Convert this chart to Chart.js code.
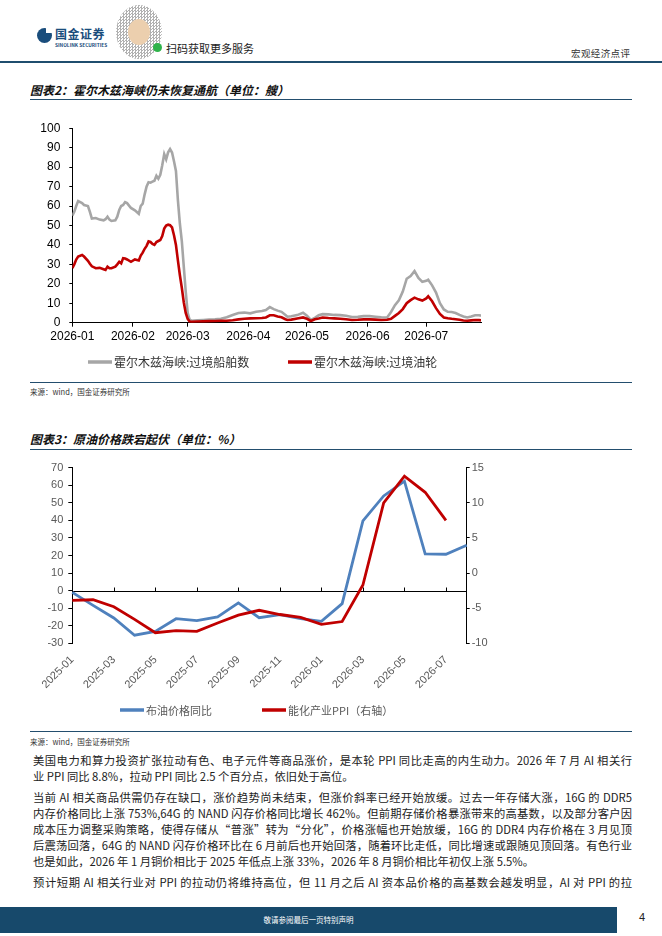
<!DOCTYPE html>
<html lang="zh-CN">
<head>
<meta charset="utf-8">
<script src="https://cdn.jsdelivr.net/npm/chart.js@4.4.1/dist/chart.umd.min.js"></script>
<style>
  html, body { margin: 0; padding: 0; background: #fff; }
  body { width: 662px; height: 936px; position: relative; overflow: hidden;
         font-family: "Noto Sans CJK SC", "Noto Sans", sans-serif; color: #222; }
  .abs { position: absolute; }
  .rule { position: absolute; left: 30px; width: 602px; height: 1.3px; background: #234e6e; }
  .title { position: absolute; left: 30px; font-size: 12px; font-weight: bold; font-style: italic; color: #111; }
  .src { position: absolute; left: 30px; font-size: 7.5px; color: #333; }
  .para { position: absolute; left: 33px; width: 599px; font-size: 11.3px; line-height: 16px; color: #222; }
  .para div { text-align: justify; text-align-last: justify; }
  .para div.last { text-align-last: left; }
  .qr { left: 116px; top: 5px; width: 46px; height: 54px; border-radius: 50%;
        background: repeating-conic-gradient(#555 0 25%, #fff 0 50%) 0 0 / 3px 3px; opacity: 0.45; }
  .qr-c { left: 128px; top: 19px; width: 22px; height: 26px; border-radius: 50%; background: #eccfae; }
  .qr-g { left: 153px; top: 43px; width: 9px; height: 9px; border-radius: 50%; background: #2fb34a; }
</style>
</head>
<body>
<!-- header -->
<div class="abs" style="left:37px;top:28px;width:15px;height:15px;border-radius:50%;background:#1a4d7c;"></div>
<div class="abs" style="left:46px;top:27px;width:6px;height:6px;background:#fff;"></div>
<div class="abs" style="left:55px;top:25px;font-size:12px;font-weight:bold;color:#1a4d7c;letter-spacing:0.5px;">国金证券</div>
<div class="abs" style="left:55px;top:41px;font-size:4.8px;font-weight:bold;color:#1a4d7c;">SINOLINK SECURITIES</div>
<div class="abs qr"></div>
<div class="abs qr-c"></div>
<div class="abs qr-g"></div>
<div class="abs" style="left:166px;top:40px;font-size:11px;color:#222;">扫码获取更多服务</div>
<div class="abs" style="left:571px;top:46px;font-size:9.5px;color:#333;letter-spacing:0.4px;">宏观经济点评</div>
<div class="abs" style="left:0;top:61px;width:662px;height:1.5px;background:#1f4e6e;"></div>

<!-- chart 2 block -->
<div class="title" style="top:81px;">图表2：霍尔木兹海峡仍未恢复通航（单位：艘）</div>
<div class="rule" style="top:99px;"></div>
<div class="abs" style="left:30px;top:112px;width:460px;height:268px;"><canvas id="shipChart"></canvas></div>
<div class="rule" style="top:382px;"></div>
<div class="src" style="top:386px;">来源：wind，国金证券研究所</div>

<!-- chart 3 block -->
<div class="title" style="top:430px;">图表3：原油价格跌宕起伏（单位：%）</div>
<div class="rule" style="top:449px;"></div>
<div class="abs" style="left:20px;top:452px;width:480px;height:276px;"><canvas id="oilChart"></canvas></div>
<div class="rule" style="top:731px;"></div>
<div class="src" style="top:736px;">来源：wind，国金证券研究所</div>

<!-- text -->
<div class="para" style="top:752px;">
  <div>美国电力和算力投资扩张拉动有色、电子元件等商品涨价，是本轮 PPI 同比走高的内生动力。2026 年 7 月 AI 相关行</div>
  <div class="last">业 PPI 同比 8.8%，拉动 PPI 同比 2.5 个百分点，依旧处于高位。</div>
</div>
<div class="para" style="top:789px;">
  <div>当前 AI 相关商品供需仍存在缺口，涨价趋势尚未结束，但涨价斜率已经开始放缓。过去一年存储大涨，16G 的 DDR5</div>
  <div>内存价格同比上涨 753%,64G 的 NAND 闪存价格同比增长 462%。但前期存储价格暴涨带来的高基数，以及部分客户因</div>
  <div>成本压力调整采购策略，使得存储从“普涨”转为“分化”，价格涨幅也开始放缓，16G 的 DDR4 内存价格在 3 月见顶</div>
  <div>后震荡回落，64G 的 NAND 闪存价格环比在 6 月前后也开始回落，随着环比走低，同比增速或跟随见顶回落。有色行业</div>
  <div class="last">也是如此，2026 年 1 月铜价相比于 2025 年低点上涨 33%，2026 年 8 月铜价相比年初仅上涨 5.5%。</div>
</div>
<div class="para" style="top:874px;">
  <div>预计短期 AI 相关行业对 PPI 的拉动仍将维持高位，但 11 月之后 AI 资本品价格的高基数会越发明显，AI 对 PPI 的拉</div>
</div>

<!-- footer -->
<div class="abs" style="left:0;top:907px;width:617px;height:26px;background:#17496b;"></div>
<div class="abs" style="left:0;top:914px;width:617px;text-align:center;font-size:7.5px;color:#fff;">敬请参阅最后一页特别声明</div>
<div class="abs" style="left:639px;top:911px;font-size:11px;color:#222;font-family:'Liberation Sans',Arial,sans-serif;">4</div>

<script>
// ---- chart 2 data: daily transits through Hormuz, x = day index from 2026-01-01 ----
const days = [0, 1, 2, 3, 5, 6, 8, 9, 10, 12, 14, 16, 17, 18, 19, 20, 22, 23, 24, 25, 26, 27, 28, 30, 32, 34, 35, 36, 37, 38,
  39, 40, 41, 42, 43, 44, 45, 46, 47, 48, 49, 50, 51, 52, 53, 54, 55, 56, 57, 58, 59, 60, 61, 64, 67, 70, 73, 76, 79, 82,
  85, 88, 91, 94, 97, 99, 101, 103, 105, 107, 109, 110, 112, 115, 118, 120, 122, 124, 126, 128, 131, 134, 137, 140, 143, 146, 149, 152, 155, 158,
  161, 163, 165, 167, 169, 171, 173, 175, 177, 179, 181, 182, 184, 186, 188, 190, 192, 194, 196, 198, 200, 202, 204, 206, 208, 209];
const allShips = [55, 57, 60, 62.5, 61.5, 60.5, 60, 57, 53.5, 53.8, 53, 52.6, 53.2, 54.5, 53, 52.3, 52.6, 54.5, 58, 60, 60.5, 62, 61.5, 59, 57.8, 56, 60, 61.2, 66, 70,
  72.2, 72, 72.5, 73, 75.5, 74, 76, 81, 86.7, 84, 87.6, 89.3, 87.5, 83, 78, 63, 51, 42, 29, 16, 5, 1.5, 1, 1.2, 1.4, 1.6, 1.7, 2, 2.8, 4,
  5, 5.2, 4.8, 5.6, 6, 6.5, 8, 7, 6.2, 5.6, 4, 3.1, 3.3, 3.9, 5.1, 3.6, 1.4, 2.5, 3.8, 4.4, 4.3, 4, 3.9, 3.6, 2.9, 3, 3.4, 3.4, 3.1, 2.8,
  2.7, 5.5, 9, 11.5, 16, 22.6, 24, 26.5, 23, 21, 21.5, 22.1, 19.2, 15.5, 10, 6.8, 5.6, 5.5, 5, 4, 3.2, 2.7, 3.2, 3.8, 3.8, 3.6];
const tankers = [28, 30, 32.5, 34, 34.8, 34, 31.8, 30.3, 29, 28, 28.2, 27.5, 27.1, 28.8, 28, 28, 28.8, 30, 31.3, 30.5, 33.2, 33, 32.5, 31.3, 32.5, 32, 34.5, 36, 38, 39.5,
  41.8, 41.5, 40.5, 40, 41.5, 42, 42.5, 44.5, 48.4, 50, 50.4, 50.1, 49, 45, 40, 32, 24.5, 18, 10.5, 5, 2, 0.6, 0.5, 0.6, 0.7, 0.8, 0.9, 1, 1, 1.3,
  1.7, 2, 2.2, 2.3, 2.4, 2.7, 3.8, 3.8, 3.2, 2.8, 1.8, 1.4, 1.6, 2.2, 2.7, 2, 0.9, 1.8, 2.2, 2.7, 2.4, 2.2, 2, 1.8, 1.4, 1.5, 1.7, 1.7, 1.6, 1.4,
  1.5, 2, 3.5, 5, 7, 10, 11.6, 12.9, 12, 11.4, 12.5, 13.6, 11, 7.5, 4.5, 2.7, 2.3, 2, 1.8, 1.5, 1.1, 1, 1.2, 1.4, 1.3, 1.2];
const monthDays = [0, 31, 59, 90, 120, 151, 181];
const monthLabels = ['2026-01', '2026-02', '2026-03', '2026-04', '2026-05', '2026-06', '2026-07'];
const shipTicks = [0, 10, 20, 30, 40, 50, 60, 70, 80, 90, 100];

// ---- chart 3 data: monthly, Brent yoy (left) and energy-chem PPI (right) ----
const months = ['2025-01', '2025-02', '2025-03', '2025-04', '2025-05', '2025-06', '2025-07', '2025-08', '2025-09', '2025-10',
  '2025-11', '2025-12', '2026-01', '2026-02', '2026-03', '2026-04', '2026-05', '2026-06', '2026-07', '2026-08'];
const brentYoy = [-1, -8.4, -15.6, -25.4, -23.2, -16, -17.1, -15, -7, -15.4, -13.7, -16, -17.5, -7.4, 39.7, 53.9, 62.3, 20.9, 20.7, 25.8];
const energyPpi = [-3.9, -3.8, -4.8, -6.6, -8.5, -8.2, -8.3, -7.1, -6, -5.3, -5.9, -6.3, -7.3, -6.9, -1.7, 10, 13.8, 11.5, 7.5, null];

Chart.defaults.font.family = "'Liberation Sans', Arial, sans-serif";
Chart.defaults.animation = false;

// line-sample legend drawn at fixed spots
const lineLegend = {
  id: 'lineLegend',
  afterDraw(chart, args, opts) {
    const ctx = chart.ctx;
    ctx.save();
    ctx.font = opts.font;
    ctx.textBaseline = 'middle';
    chart.data.datasets.forEach((ds, i) => {
      const x = opts.x[i];
      ctx.strokeStyle = ds.borderColor;
      ctx.lineWidth = opts.thickness;
      ctx.beginPath();
      ctx.moveTo(x, opts.y);
      ctx.lineTo(x + opts.boxWidth, opts.y);
      ctx.stroke();
      ctx.fillStyle = opts.color;
      ctx.fillText(ds.label, x + opts.boxWidth + opts.gap, opts.y + 0.5);
    });
    ctx.restore();
  }
};

// horizontal axis line at 0 with upward ticks on every 2nd month
const zeroAxis = {
  id: 'zeroAxis',
  beforeDatasetsDraw(chart) {
    const { ctx, chartArea, scales } = chart;
    const y = Math.round(scales.y.getPixelForValue(0)) + 0.5;
    ctx.save();
    ctx.strokeStyle = '#000';
    ctx.lineWidth = 1;
    ctx.beginPath();
    ctx.moveTo(chartArea.left, y);
    ctx.lineTo(chartArea.right, y);
    scales.x.ticks.forEach((t, i) => {
      if (i % 2 === 0 && i > 0) {
        const x = Math.round(scales.x.getPixelForTick(i)) + 0.5;
        ctx.moveTo(x, y);
        ctx.lineTo(x, y - 4);
      }
    });
    ctx.stroke();
    ctx.restore();
  }
};

const shipChart = new Chart(document.getElementById('shipChart'), {
  type: 'line',
  data: {
    datasets: [
      {
        label: '霍尔木兹海峡:过境船舶数',
        data: days.map((d, i) => ({ x: d, y: allShips[i] })),
        borderColor: '#a6a6a6',
        borderWidth: 2.6,
        pointRadius: 0,
        order: 1
      },
      {
        label: '霍尔木兹海峡:过境油轮',
        data: days.map((d, i) => ({ x: d, y: tankers[i] })),
        borderColor: '#c00000',
        borderWidth: 2.6,
        pointRadius: 0,
        order: 0
      }
    ]
  },
  options: {
    responsive: true,
    maintainAspectRatio: false,
    layout: { padding: { top: 14.7, right: 9, bottom: 33.3, left: 0 } },
    plugins: {
      legend: { display: false },
      tooltip: { enabled: false },
      lineLegend: { x: [58, 258], y: 250, boxWidth: 24, gap: 2, thickness: 3.5,
                    font: "12px 'Noto Sans CJK SC'", color: '#333' }
    },
    scales: {
      x: {
        type: 'linear',
        min: 0,
        max: 209,
        afterBuildTicks: s => { s.ticks = monthDays.map(v => ({ value: v })); },
        afterFit: s => { s.height = 24; },
        grid: { display: true, drawOnChartArea: false, drawTicks: true, tickLength: 4, color: '#000' },
        border: { color: '#000', width: 1 },
        ticks: {
          autoSkip: false, maxRotation: 0, padding: 3, color: '#000', font: { size: 12 },
          callback: v => monthLabels[monthDays.indexOf(v)] || ''
        }
      },
      y: {
        min: 0,
        max: 100,
        afterBuildTicks: s => { s.ticks = shipTicks.map(v => ({ value: v })); },
        afterFit: s => { s.width = 42.3; },
        grid: { display: true, drawOnChartArea: false, drawTicks: true, tickLength: 3, color: '#000' },
        border: { color: '#000', width: 1 },
        ticks: { padding: 9, color: '#000', font: { size: 12 } }
      }
    }
  },
  plugins: [lineLegend]
});

const oilChart = new Chart(document.getElementById('oilChart'), {
  type: 'line',
  data: {
    labels: months,
    datasets: [
      {
        label: '布油价格同比',
        data: brentYoy,
        yAxisID: 'y',
        borderColor: '#4f81bd',
        borderWidth: 2.8,
        pointRadius: 0,
        order: 1
      },
      {
        label: '能化产业PPI（右轴）',
        data: energyPpi,
        yAxisID: 'y1',
        borderColor: '#c00000',
        borderWidth: 2.8,
        pointRadius: 0,
        order: 0
      }
    ]
  },
  options: {
    responsive: true,
    maintainAspectRatio: false,
    layout: { padding: { top: 15.7, right: 0, bottom: 36.7, left: 0 } },
    plugins: {
      legend: { display: false },
      tooltip: { enabled: false },
      lineLegend: { x: [100, 242], y: 258, boxWidth: 24, gap: 2, thickness: 3.5,
                    font: "11px 'Noto Sans CJK SC'", color: '#595959' }
    },
    scales: {
      x: {
        offset: false,
        afterFit: s => { s.height = 48; },
        grid: { display: false },
        border: { display: false },
        ticks: {
          autoSkip: false, minRotation: 45, maxRotation: 45, padding: 2, color: '#595959', font: { size: 11 },
          callback: (v, i) => (i % 2 === 0 ? months[i] : '')
        }
      },
      y: {
        position: 'left',
        min: -30,
        max: 70,
        ticks: { stepSize: 10, padding: 5, color: '#595959', font: { size: 11 } },
        afterFit: s => { s.width = 52.3; },
        grid: { display: true, drawOnChartArea: false, drawTicks: true, tickLength: 4, color: '#000' },
        border: { color: '#000', width: 1 }
      },
      y1: {
        position: 'right',
        min: -10,
        max: 15,
        ticks: { stepSize: 5, padding: 2, color: '#595959', font: { size: 11 } },
        afterFit: s => { s.width = 33.3; },
        grid: { display: true, drawOnChartArea: false, drawTicks: true, tickLength: 3, color: '#000' },
        border: { color: '#000', width: 1 }
      }
    }
  },
  plugins: [lineLegend, zeroAxis]
});
</script>
</body>
</html>
